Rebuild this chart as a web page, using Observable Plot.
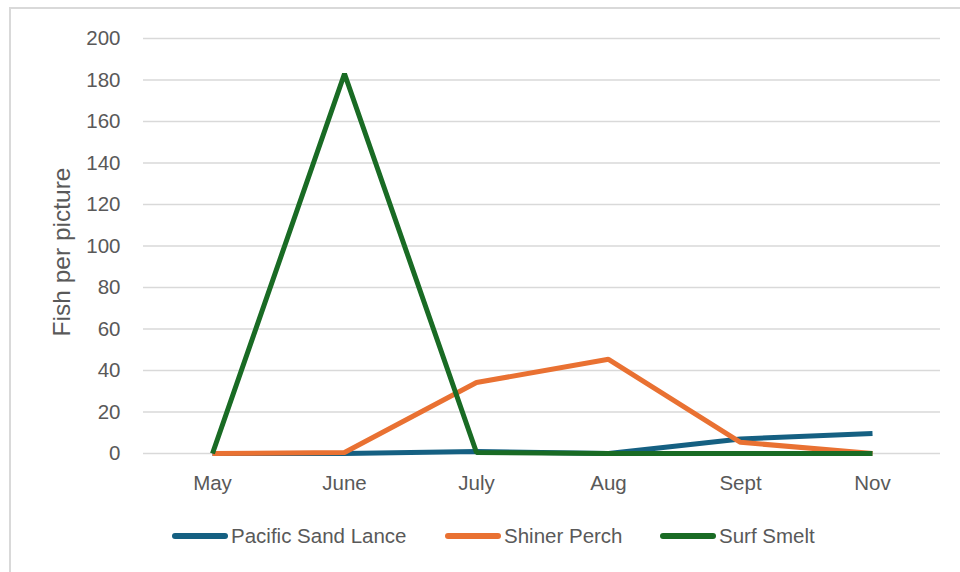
<!DOCTYPE html>
<html>
<head>
<meta charset="utf-8">
<script src="https://cdn.jsdelivr.net/npm/d3@7"></script>
<script src="https://cdn.jsdelivr.net/npm/@observablehq/plot@0.6"></script>
<style>
  html, body { margin: 0; padding: 0; background: #fff; }
  body { width: 960px; height: 572px; position: relative; overflow: hidden; font-family: "Liberation Sans", Arial, sans-serif; }
  #frame { position: absolute; left: 9px; top: 7px; width: 1000px; height: 620px; border: 2px solid #d9d9d9; box-sizing: border-box; }
  #chart { position: absolute; left: 0; top: 0; }
  .item { position: absolute; top: 524px; display: flex; align-items: center; height: 24px; color: #595959; font-size: 20.5px; }
  .sw { width: 56px; height: 6px; border-radius: 3px; margin-right: 3px; }
</style>
</head>
<body>
<div id="frame"></div>
<div id="chart"></div>
<div id="legend"></div>
<script>
const months = ["May", "June", "July", "Aug", "Sept", "Nov"];
const seriesNames = ["Pacific Sand Lance", "Shiner Perch", "Surf Smelt"];
const colors = ["#156082", "#e97132", "#196b24"];
const sandLance = [0, 0, 1, 0, 7, 9.6];
const shinerPerch = [0, 0.5, 34.2, 45.4, 5.4, 0];
const surfSmelt = [0, 183, 0.5, 0, 0, 0];
const yTicks = [0, 20, 40, 60, 80, 100, 120, 140, 160, 180, 200];
const yLabel = "Fish per picture";

const allSeries = [sandLance, shinerPerch, surfSmelt];
const data = [];
seriesNames.forEach((name, i) => {
  months.forEach((m, j) => data.push({series: name, month: m, value: allSeries[i][j]}));
});

const plot = Plot.plot({
  width: 960,
  height: 500,
  marginLeft: 143,
  marginRight: 20,
  marginTop: 38,
  marginBottom: 47,
  style: { fontFamily: "'Liberation Sans', Arial, sans-serif", fontSize: "20.5px", color: "#595959", background: "transparent" },
  x: { type: "point", domain: months, padding: 0.5 },
  y: { domain: [0, 200] },
  color: { domain: seriesNames, range: colors },
  marks: [
    Plot.gridY(yTicks, { stroke: "#d9d9d9", strokeOpacity: 1, strokeWidth: 1.5 }),
    Plot.axisY(yTicks, { tickSize: 0, tickPadding: 23, label: null, fill: "#595959" }),
    Plot.axisX({ tickSize: 0, tickPadding: 22, label: null, fill: "#595959" }),
    Plot.text([yLabel], { frameAnchor: "left", textAnchor: "middle", rotate: -90, dx: -81, dy: 6, fontSize: 24.5, fill: "#595959" }),
    Plot.line(data, { x: "month", y: "value", z: "series", stroke: "series", strokeWidth: 5, strokeLinecap: "butt", strokeLinejoin: "miter" })
  ]
});
document.getElementById("chart").appendChild(plot);

const lefts = [172, 445, 660];
const legend = document.getElementById("legend");
seriesNames.forEach((name, i) => {
  const it = document.createElement("div");
  it.className = "item";
  it.style.left = lefts[i] + "px";
  const sw = document.createElement("div");
  sw.className = "sw";
  sw.style.background = colors[i];
  const tx = document.createElement("span");
  tx.textContent = name;
  it.appendChild(sw);
  it.appendChild(tx);
  legend.appendChild(it);
});
</script>
</body>
</html>
